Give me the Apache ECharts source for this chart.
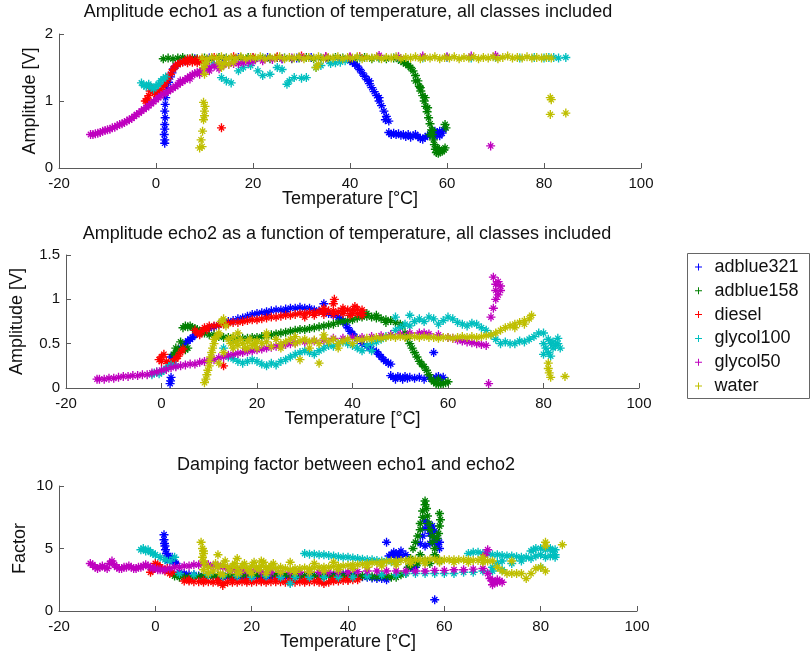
<!DOCTYPE html>
<html>
<head>
<meta charset="utf-8">
<title>Echo amplitudes and damping factor vs temperature</title>
<script src="https://cdn.jsdelivr.net/npm/echarts@6/dist/echarts.min.js"></script>
<style>
  html, body { margin: 0; padding: 0; background: #fff; }
  #chart { width: 811px; height: 659px; }
</style>
</head>
<body>
<div id="chart"></div>
<script>
// ---- classes and colours ----
const classNames = ['adblue321', 'adblue158', 'diesel', 'glycol100', 'glycol50', 'water'];
const classColors = ['#0000ff', '#008000', '#ff0000', '#00bfbf', '#bf00bf', '#bfbf00'];

// ---- tick values ----
const tempTicks = [-20, 0, 20, 40, 60, 80, 100];
const echo1Ticks = [0, 1, 2];
const echo2Ticks = [0, 0.5, 1, 1.5];
const factorTicks = [0, 5, 10];

// ---- echo1 amplitude [V] vs temperature [°C] ----
const echo1Adblue321 = [
  [1.8,0.37],[1.8,0.42],[1.7,0.5],[1.8,0.58],[1.8,0.65],[1.9,0.75],[1.8,0.85],[1.9,0.95],[2.0,1.05],[2.0,1.12],
  [2.2,1.2],[2.6,1.28],[3.0,1.36],[3.3,1.42],[3.6,1.48],[4.0,1.52],[4.5,1.55],[5.0,1.57],[5.5,1.59],[6.0,1.6],[6.5,1.61],
  [8,1.63],[11,1.64],[14,1.63],[17,1.65],[20,1.64],[23,1.65],[26,1.63],[29,1.64],[32,1.65],[35,1.64],[38,1.63],
  [40,1.6],[40.5,1.58],[41,1.55],[41.5,1.52],[42,1.47],[42.5,1.42],[43,1.37],[43.5,1.32],[44,1.26],[44.5,1.2],
  [45,1.14],[45.5,1.08],[46,1.0],[46.5,0.93],[47,0.85],[47.5,0.77],[48,0.7],[44,1.3],[46,1.05],[47.3,0.72],
  [48,0.53],[48.5,0.5],[49,0.52],[49.5,0.5],[50,0.51],[50.5,0.49],[51,0.5],[51.5,0.47],[52,0.5],[52.5,0.46],
  [53,0.48],[53.5,0.5],[54,0.47],[54.5,0.44],[55,0.43],[55.5,0.46],[56,0.48],[56.5,0.5],[57,0.52],[57.5,0.55],
  [58,0.53],[58.5,0.55],[59,0.52],[59.3,0.57],[57.5,0.47],[58.5,0.48]
];
const echo1Adblue158 = [
  [1.5,1.63],[2.5,1.64],[3.5,1.63],[4.5,1.64],[5.5,1.65],[6.5,1.63],[7.5,1.64],[8.5,1.63],[10,1.64],[11.5,1.63],
  [13,1.65],[14.5,1.64],[16,1.63],[17.5,1.64],[19,1.65],[20.5,1.63],[22,1.64],[23.5,1.63],[25,1.65],[26.5,1.64],
  [28,1.63],[29.5,1.64],[31,1.65],[32.5,1.63],[34,1.64],[35.5,1.63],[37,1.65],[38.5,1.64],[40,1.63],[41.5,1.64],
  [43,1.65],[44.5,1.63],[46,1.64],[47.5,1.63],[49,1.64],
  [50,1.62],[50.5,1.6],[51,1.58],[51.5,1.56],[52,1.53],[52.5,1.5],[53,1.45],[53.5,1.38],[54,1.3],[54.3,1.22],
  [54.6,1.15],[55,1.08],[55.3,1.0],[55.6,0.92],[55.9,0.84],[56.2,0.75],[56.5,0.66],[56.8,0.57],[57,0.5],[57.2,0.42],
  [57.4,0.35],[57.6,0.28],[57.8,0.23],[58.2,0.22],[58.6,0.24],[59,0.25],[59.4,0.27],[59.6,0.3],[58,0.3],[59.8,0.6],
  [59.6,0.65],[57,0.56],[56.5,0.5],[53.5,1.3],[54.5,1.2],[55.5,1.05],[56,0.9],[58.4,0.28]
];
const echo1Diesel = [
  [-2.2,1.0],[-1.8,1.03],[-1.5,1.08],[-1.2,1.15],[-1,1.2],[-0.6,1.17],[-0.3,1.12],[0,1.1],[0.5,1.13],[1,1.17],
  [1.5,1.22],[2,1.27],[2.5,1.33],[3,1.4],[3.5,1.47],[4,1.52],[4.5,1.55],[5,1.57],[5.5,1.58],[6,1.6],[6.5,1.62],
  [7,1.63],[7.5,1.61],[8,1.6],[8.5,1.62],[9,1.6],[6.5,1.57],[7.5,1.58],[8.5,1.57],[9.5,1.62],[-1.8,1.0],
  [13.5,0.6],[12,1.65],[16,1.66],[20,1.65],[25,1.66],[30,1.67],[35,1.66],[40,1.65],[42,1.66]
];
const echo1Glycol100 = [
  [-3,1.27],[-2.5,1.23],[-2,1.22],[-1.5,1.25],[-1,1.2],[-0.5,1.18],[0,1.22],[0.5,1.25],[1,1.3],[1.5,1.33],[2,1.36],
  [12,1.55],[13.5,1.35],[14.5,1.3],[15.5,1.27],[17,1.45],[18,1.5],[19.5,1.53],[21,1.45],[22,1.38],[23.5,1.4],
  [25,1.5],[26,1.47],[27,1.25],[27.5,1.3],[28.5,1.35],[30,1.34],[31,1.35],[33,1.5],[34,1.53],[36,1.56],[37,1.57],
  [38,1.58],[39,1.6],
  [42,1.64],[46,1.65],[50,1.64],[55,1.64],[60,1.65],[65,1.64],[70,1.65],[75,1.64],[78,1.65],[80,1.64],[81,1.65],
  [82,1.65],[83,1.64],[84.5,1.65]
];
const echo1Glycol50 = [
  [-13.5,0.5],[-13,0.5],[-12.5,0.51],[-12,0.52],[-11.5,0.53],[-11,0.55],[-10.5,0.56],[-10,0.57],[-9.5,0.58],[-9,0.6],
  [-8.5,0.61],[-8,0.63],[-7.5,0.65],[-7,0.66],[-6.5,0.68],[-6,0.7],[-5.5,0.72],[-5,0.74],[-4.5,0.77],[-4,0.8],
  [-3.5,0.82],[-3,0.85],[-2.5,0.88],[-2,0.9],[-1.5,0.93],[-1,0.96],[-0.5,0.99],[0,1.02],[0.5,1.05],[1,1.08],
  [1.5,1.1],[2,1.12],[2.5,1.14],[3,1.17],[3.5,1.19],[4,1.22],[4.5,1.24],[5,1.27],[5.5,1.29],[6,1.32],[6.5,1.34],
  [7,1.37],[7.5,1.39],[8,1.41],[8.5,1.42],[9,1.44],[9.5,1.46],[10,1.47],[10.5,1.49],[11,1.5],[12,1.52],[13,1.53],
  [14,1.54],[15,1.55],[16,1.56],[17,1.56],[18,1.57],[19,1.58],[20,1.59],[22,1.6],[24,1.62],[26,1.63],[28,1.64],
  [30,1.65],[35,1.66],[40,1.66],[46,1.68],[50,1.66],[55,1.67],[60,1.66],[65,1.67],[70,1.68],
  [5,1.3],[7,1.33],[9,1.4],[11,1.45],[13,1.48],[69,0.33]
];
const echo1Water = [
  [9,0.3],[9.5,0.32],[9.3,0.42],[9.6,0.55],[9.8,0.72],[10,0.78],[10,0.85],[10.1,0.92],[9.8,0.98],[10,1.4],[9.8,1.5],
  [10,1.55],[10.5,1.58],[13,1.57],[14,1.56],[15,1.55],[13.5,1.5],[16,1.58],[33,1.5],[33.5,1.55],
  [9.5,1.64],[10.5,1.63],[11.5,1.65],[12.5,1.64],[13.5,1.66],[14.5,1.63],[15.5,1.65],[16.5,1.64],[17.5,1.66],
  [18.5,1.63],[19.5,1.65],[20.5,1.64],[21.5,1.66],[22.5,1.63],[23.5,1.65],[24.5,1.64],[25.5,1.66],[26.5,1.63],
  [27.5,1.65],[28.5,1.64],[29.5,1.66],[30.5,1.63],[31.5,1.65],[32.5,1.64],[33.5,1.66],[34.5,1.63],[35.5,1.65],
  [36.5,1.64],[37.5,1.66],[38.5,1.63],[39.5,1.65],[40.5,1.64],[41.5,1.66],[42.5,1.63],[43.5,1.65],[44.5,1.64],
  [45.5,1.66],[46.5,1.63],[47.5,1.65],[48.5,1.64],[49.5,1.66],[50.5,1.63],[51.5,1.65],[52.5,1.64],[53.5,1.66],
  [54.5,1.63],[55.5,1.65],[56.5,1.64],[57.5,1.66],[58.5,1.63],[59.5,1.65],[60.5,1.64],[61.5,1.66],[62.5,1.63],
  [63.5,1.65],[64.5,1.64],[65.5,1.66],[66.5,1.63],[67.5,1.65],[68.5,1.64],[69.5,1.66],[70.5,1.63],[71.5,1.65],
  [72.5,1.67],[73.5,1.64],[74.5,1.65],[75.5,1.64],[76.5,1.66],[77.5,1.64],[78.5,1.65],[79.5,1.64],[80.5,1.65],
  [81.5,1.64],[81.3,1.05],[81.5,1.02],[81.3,0.8],[84.5,0.82]
];

// ---- echo2 amplitude [V] vs temperature [°C] ----
const echo2Adblue321 = [
  [1.8,0.05],[1.9,0.08],[2,0.12],
  [2,0.35],[2.5,0.36],[3,0.38],[3.5,0.42],[4,0.45],[4.5,0.47],[5,0.5],[5.5,0.53],[6,0.55],[6.5,0.57],[7,0.6],
  [8,0.62],[9,0.65],[10,0.67],[11,0.69],[12,0.71],[13,0.73],[14,0.75],[15,0.76],[16,0.78],[17,0.79],[18,0.81],
  [19,0.83],[20,0.84],[21,0.85],[22,0.86],[23,0.87],[24,0.88],[25,0.88],[26,0.89],[27,0.9],[28,0.9],[29,0.91],
  [30,0.9],[31,0.9],[32,0.88],[33,0.87],[34,0.86],[35,0.84],[36,0.82],[37,0.8],[37.5,0.78],[38,0.76],[38.5,0.72],
  [39,0.68],[39.5,0.64],[40,0.61],[40.5,0.58],[34,0.95],[22,0.83],[26,0.86],
  [41,0.55],[42,0.5],[43,0.47],[44,0.44],[45,0.41],[45.5,0.38],[46,0.35],[46.5,0.32],[47,0.3],[47.5,0.28],[48,0.27],
  [48,0.14],[48.5,0.12],[49,0.1],[49.5,0.13],[50,0.12],[50.5,0.1],[51,0.13],[51.5,0.11],[52,0.12],[53,0.11],
  [54,0.12],[55,0.1],[56,0.12],[57,0.1],[57.5,0.12],[58,0.13],[58.5,0.1],[59,0.12],[57,0.4]
];
const echo2Adblue158 = [
  [2.5,0.38],[3,0.4],[3.5,0.42],[4,0.44],[4.5,0.45],[5,0.43],[5.5,0.45],[3,0.45],[4,0.52],
  [4.5,0.68],[5,0.7],[5.5,0.69],[6,0.7],[6.5,0.68],[7,0.67],[7.5,0.66],[8,0.64],[8.5,0.63],[9,0.62],[10,0.6],
  [11,0.6],[12,0.58],[13,0.57],[14,0.57],[15,0.56],[16,0.56],[17,0.56],[18,0.56],[19,0.57],[20,0.57],[21,0.58],
  [22,0.59],[23,0.6],[24,0.61],[25,0.62],[26,0.63],[27,0.64],[28,0.65],[29,0.66],[30,0.66],[31,0.67],[32,0.68],
  [33,0.69],[34,0.7],[35,0.71],[36,0.72],[37,0.74],[38,0.75],[39,0.76],[40,0.77],[41,0.79],[42,0.8],[43,0.81],
  [44,0.8],[45,0.79],[46,0.78],[47,0.77],[48,0.76],[49,0.74],[50,0.72],[50.5,0.7],[51,0.62],[51.5,0.56],[52,0.5],
  [52.5,0.45],[53,0.4],[53.5,0.35],[54,0.3],[54.5,0.27],[55,0.24],[55.5,0.2],[56,0.15],[56.5,0.1],[57,0.07],
  [57.5,0.05],[58,0.04],[58.5,0.05],[59,0.05],[59.5,0.06],[60,0.07],[58,0.1],[43,0.84],[45,0.82],[47,0.74]
];
const echo2Diesel = [
  [-0.5,0.32],[0,0.35],[0,0.3],[0.5,0.38],[1,0.3],[1.5,0.28],[2,0.28],[2.5,0.3],[3,0.33],[3.5,0.36],[4,0.4],[4.5,0.44],
  [7,0.65],[7.5,0.62],[8,0.6],[8.5,0.64],[9,0.68],[9.5,0.66],[10,0.7],[11,0.7],[12,0.71],[13,0.72],[14,0.73],
  [15,0.74],[16,0.74],[17,0.75],[18,0.76],[19,0.77],[20,0.77],[21,0.78],[22,0.79],[23,0.8],[24,0.8],[25,0.81],
  [26,0.82],[27,0.82],[28,0.83],[29,0.84],[30,0.84],[31,0.85],[32,0.85],[33,0.86],[34,0.86],[35,0.87],[36,0.87],
  [36,0.95],[36.2,1.0],[37,0.86],[38,0.87],[39,0.88],[40,0.88],[41,0.89],[42,0.88],[42,0.82],[41,0.84],[40.5,0.92],
  [39.5,0.82],[30,0.8],[32,0.82],[34,0.83],[36,0.83],[38,0.84],[40,0.84],[42,0.85],[38,0.9],[34,0.9],[13,0.25]
];
const echo2Glycol100 = [
  [-2,0.15],[-1.5,0.17],[-1,0.18],[-0.5,0.16],[0,0.18],[0.5,0.2],[1,0.22],[1.5,0.24],[2,0.26],[3,0.25],
  [13,0.45],[14,0.35],[15,0.33],[16,0.3],[17,0.28],[18,0.3],[19,0.32],[20,0.3],[21,0.27],[22,0.25],[23,0.28],
  [24,0.26],[25,0.3],[26,0.32],[27,0.35],[28,0.38],[29,0.4],[30,0.42],[31,0.4],[32,0.38],[33,0.42],[34,0.45],
  [35,0.48],[36,0.47],[37,0.5],[38,0.52],[39,0.5],[40,0.48],[41,0.45],[42,0.42],[43,0.48],[44,0.5],[45,0.52],
  [46,0.55],[47,0.58],[48,0.6],[49,0.65],[50,0.68],[51,0.72],[52,0.7],[53,0.75],[54,0.78],[55,0.75],[56,0.8],
  [57,0.78],[58,0.72],[59,0.76],[60,0.8],[61,0.78],[62,0.74],[63,0.72],[64,0.7],[65,0.73],[66,0.72],[67,0.68],
  [68,0.65],[69,0.6],[70,0.55],[71,0.5],[72,0.52],[73,0.5],[74,0.5],[75,0.53],[76,0.52],[77,0.55],[78,0.58],
  [79,0.62],[80,0.62],[80,0.5],[80.5,0.45],[81,0.4],[81,0.55],[81.5,0.5],[82,0.45],[82,0.52],[82.5,0.48],[83,0.5],
  [83,0.56],[83.5,0.45],[80,0.38],[81.5,0.36],[49,0.8],[52,0.82],[44,0.42]
];
const echo2Glycol50 = [
  [-13.5,0.1],[-13,0.1],[-12,0.1],[-11,0.11],[-10,0.11],[-9,0.12],[-8,0.13],[-7,0.13],[-6,0.14],[-5,0.14],
  [-4,0.15],[-3,0.15],[-2,0.17],[-1,0.18],[0,0.2],[1,0.21],[2,0.23],[3,0.24],[4,0.25],[5,0.26],[6,0.27],[7,0.27],
  [8,0.29],[9,0.3],[10,0.31],[11,0.32],[12,0.34],[13,0.35],[14,0.37],[15,0.38],[16,0.39],[17,0.4],[18,0.41],
  [19,0.42],[20,0.43],[21,0.44],[22,0.45],[23,0.46],[24,0.47],[25,0.48],[26,0.49],[27,0.5],[28,0.51],[30,0.52],
  [32,0.53],[34,0.54],[36,0.56],[38,0.56],[40,0.57],[42,0.57],[44,0.58],[46,0.59],[48,0.6],[50,0.61],[52,0.62],
  [54,0.62],[55,0.62],[56,0.61],[58,0.6],[60,0.57],[61,0.56],[62,0.54],[63,0.53],[64,0.52],[65,0.51],[66,0.5],
  [67,0.49],[68,0.48],
  [69,0.8],[69.5,0.9],[70,1.0],[70,1.1],[70.5,1.2],[69.5,1.25],[71,1.15],[70.5,1.05],[71,1.1],[70,1.17],[68.5,0.05]
];
const echo2Water = [
  [9,0.06],[9.3,0.1],[9.5,0.15],[9.7,0.2],[10,0.25],[10,0.3],[10.3,0.35],[10.5,0.4],[10.7,0.45],[11,0.5],
  [11,0.55],[11.5,0.58],[12,0.6],
  [12,0.62],[12.5,0.75],[13,0.78],[13.5,0.7],[14,0.55],[14.5,0.5],[15,0.45],[15.5,0.52],[16,0.48],[16.5,0.55],
  [17,0.5],[17.5,0.45],[18,0.52],[18.5,0.55],[19,0.48],[19.5,0.5],[20,0.53],[21,0.5],[22,0.52],[23,0.47],[24,0.55],
  [25,0.5],[26,0.52],[27,0.55],[28,0.5],[29,0.53],[30,0.55],[31,0.52],[32,0.54],[33,0.5],[34,0.56],[35,0.52],
  [36,0.55],[37,0.5],[38,0.53],[39,0.55],[40,0.5],[41,0.55],[42,0.54],[43,0.56],[44,0.55],[45,0.57],[46,0.56],
  [47,0.57],[48,0.58],[49,0.57],[50,0.58],[51,0.57],[52,0.58],[53,0.58],[54,0.57],[55,0.58],[56,0.57],[57,0.57],
  [58,0.56],[59,0.57],[60,0.57],[61,0.56],[62,0.57],[63,0.58],[64,0.57],[65,0.58],[66,0.57],[67,0.58],[68,0.59],
  [69,0.6],[70,0.62],[71,0.65],[72,0.68],[73,0.7],[74,0.72],[75,0.74],[76,0.76],[77,0.78],[77.5,0.82],[76,0.72],
  [74,0.68],[15,0.58],[18,0.45],[20,0.45],[22,0.58],[25,0.45],[28,0.58],[31,0.45],[34,0.6],[37,0.45],[16,0.62],
  [22,0.62],[81,0.28],[81,0.22],[81.2,0.17],[81.5,0.12],[84.5,0.13],[13,0.4],[12,0.28],[29,0.32],[33,0.28]
];

// ---- damping factor echo1/echo2 vs temperature [°C] ----
const factorAdblue321 = [
  [1.8,6.1],[1.8,5.7],[1.9,5.4],[2,5.2],[2.1,4.9],[2.3,4.6],[2.6,4.4],[3,4.2],[3.3,4.1],[3.6,4.0],[4,3.9],[4.3,3.8],
  [3.5,4.3],[2.5,4.0],
  [5,3.1],[6,3.0],[7,2.9],[8,2.9],[9,2.8],[10,2.8],[11,2.8],[12,2.8],[13,2.7],[14,2.7],[15,2.7],[16,2.7],[17,2.7],
  [18,2.7],[19,2.7],[20,2.7],[21,2.7],[22,2.7],[23,2.7],[24,2.7],[25,2.7],[26,2.7],[27,2.7],[28,2.7],[29,2.75],
  [30,2.75],[31,2.8],[32,2.8],[33,2.8],[34,2.8],[35,2.85],[36,2.85],[37,2.9],[38,2.9],[39,2.95],[40,3.0],[41,2.9],
  [42,2.8],[43,2.75],[44,2.7],[45,2.65],[46,2.6],[47,2.6],[48,2.5],
  [48,5.5],[48.5,4.4],[49,4.5],[49.5,4.7],[50,4.6],[50.5,4.5],[51,4.8],[51,4.4],[52,4.5],[50,4.3],
  [53,3.5],[53.5,3.4],[54,3.5],
  [55,5.4],[55.5,6.0],[56,6.6],[56,7.2],[56.5,7.0],[57,6.6],[57,6.2],[57.5,6.8],[57.5,6.0],[58,5.6],[58,6.4],
  [58.5,5.8],[58.5,5.3],[59,5.5],[59,5.0],[57,5.4],[56,5.2],[58,0.9]
];
const factorAdblue158 = [
  [4,2.8],[5,2.7],[6,2.7],[7,2.7],[8,2.7],[9,2.75],[10,2.8],[11,2.8],[12,2.8],[13,2.8],[14,2.8],[15,2.85],[16,2.8],
  [17,2.85],[18,2.85],[19,2.9],[20,2.9],[21,2.9],[22,2.9],[23,2.95],[24,2.95],[25,2.9],[26,2.9],[27,2.9],[28,2.85],
  [29,2.8],[30,2.8],[31,2.8],[32,2.8],[33,2.8],[34,2.8],[35,2.8],[36,2.8],[37,2.8],[38,2.8],[39,2.8],[40,2.8],
  [41,2.8],[42,2.8],[43,2.8],[44,2.8],[45,2.75],[46,2.75],[47,2.8],[48,2.8],[49,2.7],[50,2.7],[51,2.9],[52,3.0],
  [52.5,3.5],[53,4.2],[53.5,5.0],[54,5.5],[54.5,6.0],[55,6.5],[55,7.0],[55.5,7.5],[55.5,8.0],[56,8.5],[56,8.8],
  [56.3,8.2],[56.5,7.6],[56.8,7.0],[57,6.5],[57.5,6.0],[57.5,5.5],[58,5.0],[58,4.5],[58.5,4.2],[59,4.0],[59,7.8],
  [59.2,7.3],[59,6.8],[58.8,6.2],[58.5,5.8],[54,4.0],[55,4.5],[56,4.0],[57,3.8],[53,3.6],[54.5,3.8]
];
const factorDiesel = [
  [-1,3.1],[-0.5,3.3],[0,3.8],[0.5,3.7],[1,3.5],[1.5,3.4],[2,3.2],[3,3.0],[3.5,3.1],[2.5,3.4],
  [6,2.4],[7,2.4],[8,2.35],[9,2.35],[10,2.3],[11,2.35],[12,2.3],[13,2.3],[14,2.2],[15,2.3],[16,2.3],[17,2.3],
  [18,2.35],[19,2.3],[20,2.3],[21,2.35],[22,2.35],[23,2.3],[24,2.35],[25,2.35],[26,2.35],[27,2.3],[28,2.3],
  [29,2.3],[30,2.35],[31,2.3],[32,2.35],[33,2.35],[34,2.3],[35,2.2],[36,2.3],[37,2.4],[38,2.4],[39,2.45],[40,2.45],
  [41,2.5],[42,2.5],
  [7,2.5],[10,2.45],[13,2.45],[16,2.45],[19,2.45],[22,2.45],[25,2.5],[28,2.45],[31,2.45],[34,2.5],[37,2.5],
  [40,2.55],[14,2.05]
];
const factorGlycol100 = [
  [-3,4.9],[-2.5,5.0],[-2,4.8],[-1.5,4.9],[-1,4.7],[-0.5,4.6],[0,4.5],[1,4.3],[2,4.1],[3,4.0],[4,4.3],
  [5,3.0],[8,2.9],[11,2.9],[14,2.8],[17,2.8],[20,2.7],[23,2.8],[26,2.7],[28,2.2],[29,2.7],[32,2.7],[35,2.7],
  [38,2.7],[41,2.7],[44,2.8],[47,2.9],[50,2.9],[52,3.0],[54,3.0],[56,3.0],[58,3.0],[60,3.0],[62,3.0],[64,3.1],
  [66,3.1],[68,3.2],[70,3.5],[71,3.8],[72,4.0],
  [31,4.6],[32,4.55],[33,4.55],[34,4.5],[35,4.5],[36,4.45],[37,4.4],[38,4.35],[39,4.3],[40,4.3],[41,4.25],
  [42,4.2],[43,4.15],[44,4.1],[45,4.1],[46,4.05],[47,4.0],[48,4.0],[49,3.95],[50,3.9],
  [65,4.6],[66,4.7],[67,4.7],[68,4.6],[69,4.6],[70,4.5],[71,4.5],[72,4.45],[73,4.4],[74,4.4],[75,4.35],[76,4.3],
  [77,4.3],[78,4.8],[78.5,4.9],[79,5.0],[80,5.0],[81,4.9],[82,5.0],[82.5,4.8],[83,4.9],[83,4.5],[83,4.3],[82,4.4],
  [81,4.3],[80,4.5],[79,4.4],[78,4.2],[76,4.0],[74,3.8],[72,3.3],[70,3.2],[80,3.5]
];
const factorGlycol50 = [
  [-13.5,3.8],[-13,3.7],[-12.5,3.5],[-12,3.4],[-11.5,3.5],[-11,3.6],[-10.5,3.5],[-10,3.4],[-9.5,3.8],[-9,4.0],
  [-8.5,3.7],[-8,3.5],[-7.5,3.4],[-7,3.4],[-6.5,3.5],[-6,3.5],[-5.5,3.6],[-5,3.5],[-4.5,3.4],[-4,3.4],[-3.5,3.5],
  [-3,3.5],[-2.5,3.6],[-2,3.7],[-1.5,3.6],[-1,3.5],[-0.5,3.4],[0,3.4],[0.5,3.3],[1,3.3],[1.5,3.3],[2,3.3],[3,3.4],
  [4,3.5],[5,3.5],[6,3.6],[7,3.6],[8,3.7],[9,3.7],[10,3.8],[11,3.7],[12,3.6],[13,3.6],[14,3.5],[15,3.4],[16,3.3],
  [17,3.3],[18,3.2],[19,3.2],[20,3.2],[22,3.1],[24,3.1],[26,3.1],[28,3.1],[30,3.1],[32,3.1],[34,3.1],[36,3.1],
  [38,3.1],[40,3.1],[42,3.15],[44,3.2],[46,3.2],[48,3.2],[50,3.2],[52,3.2],[54,3.2],[56,3.2],[58,3.25],[60,3.25],
  [62,3.3],[64,3.3],[66,3.35],[68,3.4],
  [69,4.9],[68.5,4.5],[69,3.0],[69.5,2.6],[70,2.4],[70.5,2.3],[71,2.3],[71.5,2.4],[72,2.3],[70,2.1],[71,2.5]
];
const factorWater = [
  [9.5,5.5],[9.8,5.0],[10,4.8],[10,4.6],[9.8,4.3],[10,4.0],[10.2,3.8],
  [10,3.3],[11,3.5],[12,3.2],[12.5,3.8],[13,3.5],[13.5,3.0],[14,3.7],[14.5,4.0],[15,3.5],[15.5,3.2],[16,3.6],
  [16.5,3.8],[17,3.4],[17.5,3.1],[18,3.6],[18.5,3.8],[19,3.4],[19.5,3.2],[20,3.6],[20.5,3.9],[21,3.5],[21.5,3.3],
  [22,3.6],[22.5,3.9],[23,3.5],[23.5,3.3],[24,3.6],[24.5,3.8],[25,3.4],[26,3.5],[27,3.4],[28,3.3],[29,3.4],[30,3.4],
  [31,3.45],[32,3.4],[33,3.45],[34,3.5],[35,3.5],[36,3.5],[37,3.55],[38,3.6],[39,3.6],[40,3.65],[41,3.7],[42,3.7],
  [43,3.75],[44,3.8],[45,3.85],[46,3.85],[47,3.9],[48,3.95],[49,4.0],[50,4.0],[51,4.05],[52,4.05],[53,4.1],
  [54,4.1],[55,4.1],[56,4.1],[57,4.15],[58,4.15],[59,4.1],[60,4.1],[61,4.1],[62,4.1],[63,4.1],[64,4.1],[65,4.1],
  [66,4.05],[67,4.05],[68,4.05],[69,4.0],[70,4.0],
  [71,3.5],[72,3.2],[73,3.0],[74,3.0],[75,3.0],[76,3.0],[77,2.6],[78,3.0],[79,3.4],[80,3.5],[81,5.5],[81,5.2],
  [81,3.2],[84.5,5.3],[13,4.5],[17,4.2],[22,4.0],[28,3.9],[33,3.8],[37,3.9],[68,4.3],[74,4.0],
  [11,3.0],[14,2.9],[17,3.0],[20,3.0],[23,3.0],[26,3.1],[29,3.1],[32,3.1],[35,3.2],[38,3.3],[41,3.4],[44,3.5],
  [47,3.6],[50,3.7],[53,3.8],[56,3.8],[59,3.9],[62,3.9],[65,3.9],[68,3.9]
];

// ---- text ----
const titles = [
  'Amplitude echo1 as a function of temperature, all classes included',
  'Amplitude echo2 as a function of temperature, all classes included',
  'Damping factor between echo1 and echo2'
];
const xLabel = 'Temperature [°C]';
const yLabels = ['Amplitude [V]', 'Amplitude [V]', 'Factor'];

// ---- chart ----
const FONT = '"Liberation Sans", Arial, Helvetica, sans-serif';
const AXIS_COLOR = '#5a5a5a';
const TEXT_COLOR = '#111';
// '+' with a short 'x' through it
const MARKER = 'path://M0,4.25H10V5.75H0Z M4.25,0H5.75V10H4.25Z M1.5,2.5L2.5,1.5L8.5,7.5L7.5,8.5Z M7.5,1.5L8.5,2.5L2.5,8.5L1.5,7.5Z';
const LEGEND_MARKER = 'path://M0,4.3H10V5.7H0Z M4.3,0H5.7V10H4.3Z';

const panels = [
  { grid: { left: 59, top: 34, width: 582, height: 134 }, ticks: echo1Ticks, yGap: 20, titleY: 12,
    data: [echo1Adblue321, echo1Adblue158, echo1Diesel, echo1Glycol100, echo1Glycol50, echo1Water] },
  { grid: { left: 59, top: 255, width: 580, height: 133 }, ticks: echo2Ticks, yGap: 40, titleY: 234,
    data: [echo2Adblue321, echo2Adblue158, echo2Diesel, echo2Glycol100, echo2Glycol50, echo2Water] },
  { grid: { left: 59, top: 486, width: 578, height: 125 }, ticks: factorTicks, yGap: 30, titleY: 465,
    data: [factorAdblue321, factorAdblue158, factorDiesel, factorGlycol100, factorGlycol50, factorWater] }
];

const grids = [], xAxes = [], yAxes = [], series = [], graphics = [];
panels.forEach((p, i) => {
  grids.push(Object.assign({ containLabel: false }, p.grid));
  xAxes.push({
    gridIndex: i, type: 'value',
    min: tempTicks[0], max: tempTicks[tempTicks.length - 1], interval: tempTicks[1] - tempTicks[0],
    name: xLabel, nameLocation: 'middle', nameGap: 22, nameMoveOverlap: false,
    nameTextStyle: { fontFamily: FONT, fontSize: 18, color: TEXT_COLOR },
    axisLine: { show: true, onZero: false, lineStyle: { color: AXIS_COLOR, width: 1 } },
    axisTick: { show: true, inside: true, length: 5, lineStyle: { color: AXIS_COLOR } },
    axisLabel: { fontFamily: FONT, fontSize: 15, color: TEXT_COLOR, margin: 8 },
    splitLine: { show: false }
  });
  yAxes.push({
    gridIndex: i, type: 'value',
    min: p.ticks[0], max: p.ticks[p.ticks.length - 1], interval: p.ticks[1] - p.ticks[0],
    name: yLabels[i], nameLocation: 'middle', nameGap: p.yGap, nameRotate: 90, nameMoveOverlap: false,
    nameTextStyle: { fontFamily: FONT, fontSize: 18, color: TEXT_COLOR },
    axisLine: { show: true, onZero: false, lineStyle: { color: AXIS_COLOR, width: 1 } },
    axisTick: { show: true, inside: true, length: 5, lineStyle: { color: AXIS_COLOR } },
    axisLabel: { fontFamily: FONT, fontSize: 15, color: TEXT_COLOR, margin: 6 },
    splitLine: { show: false }
  });
  p.data.forEach((d, k) => {
    series.push({
      type: 'scatter', name: classNames[k], xAxisIndex: i, yAxisIndex: i,
      data: d, symbol: MARKER, symbolSize: 9,
      itemStyle: { color: classColors[k], opacity: 1 },
      emphasis: { disabled: true }, z: 2 + k
    });
  });
  graphics.push({
    type: 'text', x: p.grid.left + p.grid.width / 2 - 2, y: p.titleY,
    style: { text: titles[i], font: '18px ' + FONT, fill: TEXT_COLOR, textAlign: 'center', textVerticalAlign: 'middle' }
  });
});

// legend frame
graphics.push({
  type: 'rect', shape: { x: 687.5, y: 253.5, width: 122, height: 145 },
  style: { fill: 'none', stroke: '#666', lineWidth: 1 }, z: 0
});

const chart = echarts.init(document.getElementById('chart'), null, { renderer: 'canvas' });
chart.setOption({
  animation: false,
  color: classColors,
  grid: grids,
  xAxis: xAxes,
  yAxis: yAxes,
  series: series,
  graphic: graphics,
  legend: {
    data: classNames.map((n) => ({ name: n, icon: LEGEND_MARKER })),
    orient: 'vertical', left: 695, top: 258, padding: 0,
    itemWidth: 22, itemHeight: 7, itemGap: 5.8,
    textStyle: { fontFamily: FONT, fontSize: 18, color: TEXT_COLOR, lineHeight: 18, padding: [0, 0, 0, 0] },
    selectedMode: false
  }
});
</script>
</body>
</html>
